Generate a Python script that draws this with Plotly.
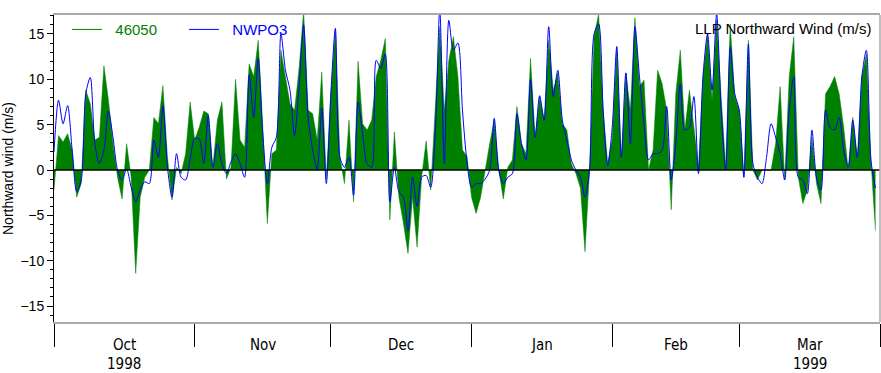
import pandas as pd
import plotly.graph_objects as go

start = pd.Timestamp("1998-10-01")

buoy_46050 = [
    -2.2, 3.8, 3.1, 4.0, 2.2, -3.0, -1.5, 8.8, 7.3, 3.3,
    3.6, 11.5, 7.7, 2.9, -0.8, -3.2, 2.9, -0.8, -11.4, -3.0,
    -0.8, 0.0, 5.8, 5.1, 9.3, 1.4, -3.3, 0.3, -0.4, 1.8,
    7.5, 3.3, 4.7, 6.5, 6.2, 0.3, 5.5, 7.5, -1.0, 0.3,
    10.0, 3.3, 2.5, 11.7, 10.3, 14.3, 4.7, -5.9, 1.8, 2.2,
    13.2, 10.3, 7.3, 6.6, 11.2, 17.5, 6.6, 6.2, 3.3, 10.8,
    -1.0, 8.4, 15.6, 1.4, -1.5, 5.5, -3.5, 12.0, 5.1, 4.4,
    5.5, 10.3, 12.1, 14.5, -5.5, 4.2, -3.0, -5.9, -9.2, -3.0,
    -8.5, -0.8, 3.2, -2.2, 6.6, 15.8, 6.6, 12.1, 14.7, 10.3,
    2.2, 1.5, -3.0, -4.8, -3.0, 0.0, 2.9, 5.5, 0.0, -3.2,
    0.3, 1.1, 7.0, 2.9, 1.8, 12.3, 3.6, 8.1, 5.5, 14.3,
    8.8, 10.7, 5.1, 4.4, 0.7, -0.4, -2.0, -9.0, 0.0, 14.7,
    17.2, 6.6, 0.7, 3.5, 13.6, 1.1, 10.7, 6.6, 16.8, 9.2,
    9.9, 0.0, 2.2, 11.0, 9.5, 6.6, -4.4, 8.4, 13.2, 4.4,
    8.8, 4.7, 0.3, 10.3, 15.0, 7.7, 16.5, 8.1, 0.3, 16.1,
    8.1, 6.6, -0.8, 14.3, 0.0, -1.1, 0.0, 0.0, 0.0, 2.9,
    9.2, -1.1, 10.3, 14.7, -0.8, -3.7, -2.2, 3.6, -1.5, -3.7,
    8.4, 9.2, 10.3, 8.4, 4.7, 0.0, 5.8, 1.4, 10.3, 12.8,
    1.1, -6.7,
]

nwpo3 = [
    2.0, 7.7, 5.1, 7.1, 2.2, -2.4, -1.1, 8.4, 10.2, 2.9,
    0.7, 2.2, 6.5, 3.6, 0.0, -1.1, 0.1, -1.9, -3.5, -2.2,
    -1.3, -1.5, 3.3, 1.4, 7.1, 0.3, -3.0, 1.8, -0.8, -1.1,
    1.2, 3.5, 3.4, 0.7, 6.0, 0.3, 2.9, 0.7, -0.4, 0.9,
    1.8, 0.7, -0.8, 10.5, 5.8, 12.3, 4.0, -1.5, 2.5, 3.6,
    15.0, 11.0, 8.8, 3.8, 9.2, 16.0, 5.8, 2.2, 0.1, 6.8,
    -1.5, 8.4, 15.6, 1.4, 0.3, 1.4, -2.8, 7.5, 4.0, 0.7,
    0.3, 12.1, 11.2, 12.8, -3.5, 0.3, -2.4, -3.0, -6.7, -0.8,
    -4.0, -0.8, -0.6, -1.9, 4.0, 17.8, 0.7, 16.5, 13.2, 14.0,
    6.6, 0.9, -1.9, -1.5, -1.5, -1.0, 0.0, 5.7, 0.0, -1.5,
    -0.8, -0.4, 6.2, 2.9, 1.1, 10.0, 3.6, 8.2, 5.5, 15.8,
    8.1, 11.0, 5.5, 3.3, 1.1, 0.0, -0.8, -3.0, 0.0, 15.0,
    16.1, 6.6, 0.5, 4.7, 13.6, 1.4, 10.7, 2.9, 15.8, 10.3,
    5.1, 1.1, 1.8, 1.8, 2.2, 7.0, -1.1, 2.9, 9.5, 4.4,
    4.7, 8.1, -0.4, 10.3, 15.0, 8.8, 17.2, 6.6, 0.0, 13.6,
    8.4, 6.6, -0.8, 13.9, 0.7, -0.8, -1.5, 1.4, 5.1, 3.6,
    1.8, -1.1, 6.6, 10.3, -0.8, -1.1, -2.6, 4.4, -0.8, -2.2,
    6.6, 4.7, 4.4, 5.8, 2.2, 0.3, 5.5, 1.4, 10.3, 13.2,
    1.1, -2.0,
]

month_starts = ["1998-10-01", "1998-11-01", "1998-12-01", "1999-01-01",
                "1999-02-01", "1999-03-01", "1999-04-01"]
month_labels = ["Oct", "Nov", "Dec", "Jan", "Feb", "Mar"]
year_labels = ["1998", "", "", "", "", "1999"]
y_ticks = [-15, -10, -5, 0, 5, 10, 15]

x_green = [start + pd.Timedelta(days=i) for i in range(len(buoy_46050))]
x_blue = [start + pd.Timedelta(days=i) for i in range(len(nwpo3))]

GREEN = "rgb(0,128,0)"
BLUE = "rgb(0,0,255)"

fig = go.Figure()
fig.add_trace(go.Scatter(
    x=x_green, y=buoy_46050, name="46050", mode="lines", showlegend=False,
    line=dict(color=GREEN, width=0.5, shape="linear"),
    fill="tozeroy", fillcolor=GREEN,
))
fig.add_trace(go.Scatter(
    x=x_blue, y=nwpo3, name="NWPO3", mode="lines", showlegend=False,
    line=dict(color=BLUE, width=1, shape="spline", smoothing=0.8),
))
# legend entries (line keys, coloured names)
fig.add_trace(go.Scatter(
    x=[None], y=[None], mode="lines",
    name="<span style='color:rgb(0,128,0)'>&nbsp;&nbsp;46050</span>",
    line=dict(color=GREEN, width=1),
))
fig.add_trace(go.Scatter(
    x=[None], y=[None], mode="lines",
    name="<span style='color:rgb(0,0,255)'>&nbsp;&nbsp;NWPO3</span>",
    line=dict(color=BLUE, width=1),
))

# zero line
fig.add_shape(type="line", xref="paper", yref="y", x0=0, x1=1, y0=0, y1=0,
              line=dict(color="black", width=1.5), layer="above")
# right frame
fig.add_shape(type="line", xref="paper", yref="paper", x0=1, x1=1, y0=0, y1=1,
              line=dict(color="#aaaaaa", width=1.5), layer="above")

ms = pd.to_datetime(month_starts)
label_font = dict(family="DejaVu Sans Condensed, Liberation Sans Narrow, Liberation Sans",
                  size=15, color="black")
for i, lab in enumerate(month_labels):
    mid = ms[i] + (ms[i + 1] - ms[i]) / 2
    fig.add_annotation(x=mid, xref="x", y=-0.0749, yref="paper", yanchor="middle",
                       text=lab, showarrow=False, font=label_font, borderpad=0)
    if year_labels[i]:
        fig.add_annotation(x=mid, xref="x", y=-0.1384, yref="paper", yanchor="middle",
                           text=year_labels[i], showarrow=False, font=label_font,
                           borderpad=0)

fig.add_annotation(x=0.992, xref="paper", y=0.955, yref="paper",
                   xanchor="right", yanchor="middle",
                   text="LLP Northward Wind (m/s)", showarrow=False,
                   font=dict(family="Liberation Sans, Arial", size=15, color="black"))

fig.update_layout(
    width=881, height=373,
    margin=dict(l=54, r=1, t=15, b=51, autoexpand=False),
    paper_bgcolor="white", plot_bgcolor="white",
    font=dict(family="Liberation Sans, Arial", color="black"),
    showlegend=True,
    legend=dict(orientation="h", x=0.0157, y=1.006, xanchor="left", yanchor="top",
                bgcolor="rgba(0,0,0,0)", font=dict(size=15),
                itemwidth=30, entrywidth=72, traceorder="normal"),
    xaxis=dict(
        range=[ms[0], ms[-1]], type="date",
        tickmode="array", tickvals=list(ms), ticktext=[""] * len(ms),
        ticks="outside", ticklen=23, tickwidth=1, tickcolor="black",
        showgrid=False, zeroline=False, automargin=False,
        showline=True, linecolor="#aaaaaa", linewidth=1.5, mirror=True,
    ),
    yaxis=dict(
        range=[-16.76, 17.09], automargin=False,
        tickmode="array", tickvals=y_ticks,
        ticks="outside", ticklen=6, tickwidth=1, tickcolor="black",
        minor=dict(dtick=1, ticks="outside", ticklen=3, tickcolor="black", showgrid=False),
        tickfont=dict(size=14), showgrid=False, zeroline=False,
        showline=True, linecolor="black", linewidth=1,
        title=dict(text="Northward wind (m/s)", font=dict(size=14), standoff=6),
    ),
)

fig.write_html("out.html", config={"displayModeBar": False},
               post_script="document.body.style.margin='0';document.body.style.padding='0';")
